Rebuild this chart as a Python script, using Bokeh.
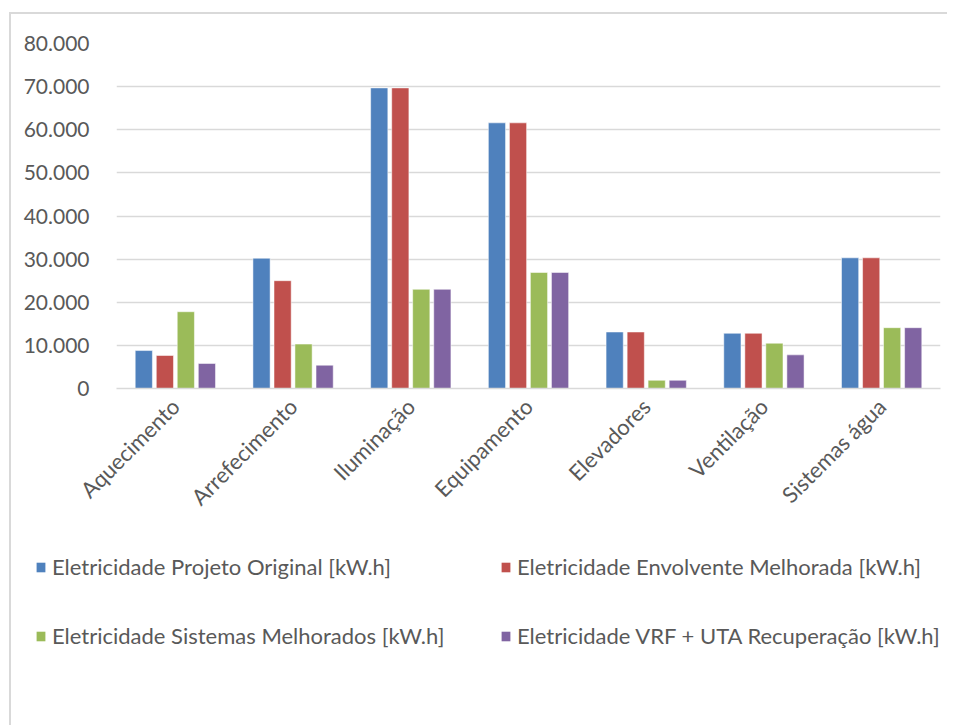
from bokeh.plotting import figure
from bokeh.models import (ColumnDataSource, FactorRange, Range1d, FixedTicker, Legend, LegendItem)
from bokeh.layouts import column, row
from bokeh.transform import dodge
from bokeh.embed import file_html
from bokeh.resources import INLINE
import math

categories = ["Aquecimento", "Arrefecimento", "Iluminação", "Equipamento", "Elevadores", "Ventilação", "Sistemas água"]
original = [8800, 30200, 69700, 61600, 13100, 12800, 30300]
envolvente = [7650, 25000, 69700, 61600, 13100, 12800, 30300]
sistemas = [17800, 10300, 23000, 26900, 1900, 10500, 14100]
vrf = [5800, 5400, 23000, 26900, 1900, 7800, 14100]
series_names = ["Eletricidade Projeto Original [kW.h]", "Eletricidade Envolvente Melhorada [kW.h]",
                "Eletricidade Sistemas Melhorados [kW.h]", "Eletricidade VRF + UTA Recuperação [kW.h]"]
colors = ["#4F81BD", "#C0504D", "#9BBB59", "#8064A2"]
y_ticks = [0, 10000, 20000, 30000, 40000, 50000, 60000, 70000, 80000]
y_tick_labels = ["0", "10.000", "20.000", "30.000", "40.000", "50.000", "60.000", "70.000", "80.000"]

FONT = "Lato"
TXT = "#595959"
src = ColumnDataSource(dict(cat=categories, s0=original, s1=envolvente, s2=sistemas, s3=vrf))

p = figure(x_range=FactorRange(*categories, range_padding=0), y_range=Range1d(0, 80000),
           width=936, height=511, output_backend="svg", toolbar_location=None,
           min_border_left=105, min_border_right=7, min_border_top=29, min_border_bottom=137)
p.outline_line_color = None

offsets = [-0.268, -0.089, 0.089, 0.268]
for i, key in enumerate(["s0", "s1", "s2", "s3"]):
    p.vbar(x=dodge("cat", offsets[i], range=p.x_range), top=key, width=0.146, source=src,
           fill_color=colors[i], line_color="white", line_alpha=0.5, line_width=1)

p.yaxis.ticker = FixedTicker(ticks=y_ticks)
p.yaxis.major_label_overrides = {t: l for t, l in zip(y_ticks, y_tick_labels)}
p.yaxis.axis_line_color = None
p.yaxis.major_tick_line_color = None
p.yaxis.minor_tick_line_color = None
p.yaxis.major_label_text_font = FONT
p.yaxis.major_label_text_font_size = "21px"
p.yaxis.major_label_text_color = TXT
p.yaxis.major_label_standoff = 21

p.xaxis.axis_line_color = "#d9d9d9"
p.xaxis.axis_line_width = 1.5
p.xaxis.major_tick_line_color = None
p.xaxis.minor_tick_line_color = None
p.xaxis.major_label_orientation = math.pi / 4
p.xaxis.major_label_text_font = FONT
p.xaxis.major_label_text_font_size = "22px"
p.xaxis.major_label_text_color = TXT
p.xaxis.major_label_standoff = 8

p.xgrid.grid_line_color = None
p.ygrid.grid_line_color = "#d9d9d9"
p.ygrid.grid_line_width = 1.5

# legend panel (separate figure; proxy glyphs lie outside its visible range)
leg = figure(width=936, height=200, output_backend="svg", toolbar_location=None,
             x_axis_type=None, y_axis_type=None, x_range=Range1d(0, 1), y_range=Range1d(0, 1),
             min_border=0, min_border_left=0, min_border_right=0, min_border_top=0, min_border_bottom=0)
leg.outline_line_color = None
leg.grid.visible = False
proxies = [leg.vbar(x=[5], top=[5], width=0.1, fill_color=colors[i], line_color=None) for i in range(4)]

positions = [(24, 145), (489, 145), (24, 76), (489, 76)]
for i in range(4):
    lg = Legend(items=[LegendItem(label=series_names[i], renderers=[proxies[i]])],
                location=positions[i], padding=0, margin=0, spacing=0,
                glyph_width=11, glyph_height=12, label_standoff=6, label_height=20,
                label_text_font=FONT, label_text_font_size="22px", label_text_color=TXT,
                border_line_alpha=0, background_fill_alpha=0)
    leg.add_layout(lg, "center")

layout = column(p, row(leg), margin=(12, 0, 0, 9),
                styles={"border-left": "2px solid #d9d9d9", "border-top": "2px solid #d9d9d9"})

open("out.html", "w").write(file_html(layout, INLINE))
